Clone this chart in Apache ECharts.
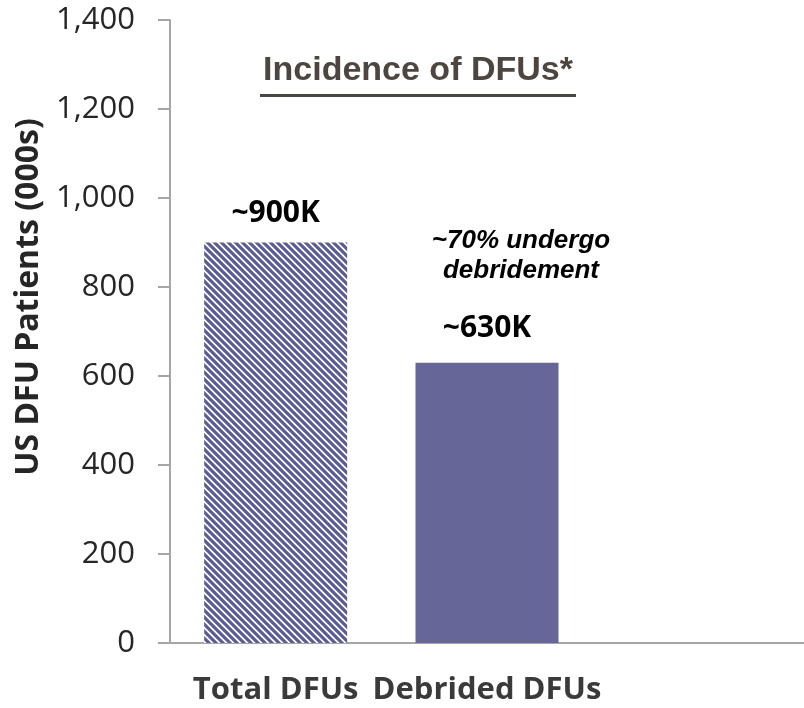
<!DOCTYPE html>
<html lang="en">
<head>
    <meta charset="UTF-8">
    <title>Incidence of DFUs</title>
    <script src="https://cdn.jsdelivr.net/npm/echarts@6/dist/echarts.min.js"></script>
    <style>
        html, body { margin: 0; padding: 0; background: #fff; }
    </style>
</head>
<body>
    <div id="main" style="width: 804px;height:708px;"></div>
    <script>
        // data
        var categories = ['Total DFUs', 'Debrided DFUs', ''];
        var patients = [900, 630, null];
        var barLabels = ['~900K', '~630K', ''];
        var yTicks = [0, 200, 400, 600, 800, 1000, 1200, 1400];

        // hatch pattern for the first bar
        function makeHatch() {
            var s = 7;
            var c = document.createElement('canvas');
            c.width = s; c.height = s;
            var ctx = c.getContext('2d');
            ctx.fillStyle = '#ffffff';
            ctx.fillRect(0, 0, s, s);
            ctx.strokeStyle = '#5c5c94';
            ctx.lineWidth = 3.2;
            ctx.beginPath();
            for (var k = -2; k <= 2; k++) {
                ctx.moveTo(k * s - s, -s);
                ctx.lineTo(k * s + 2 * s, 2 * s);
            }
            ctx.stroke();
            return c;
        }
        var hatch = makeHatch();

        var myChart = echarts.init(document.getElementById('main'));
        var option = {
            animation: false,
            grid: {
                left: 170,
                top: 20,
                width: 640,
                height: 623,
                containLabel: false
            },
            xAxis: {
                type: 'category',
                data: categories,
                axisLine: { lineStyle: { color: '#a6a6a6', width: 2 } },
                axisTick: { length: 12, lineStyle: { color: '#a6a6a6', width: 2 } },
                axisLabel: {
                    interval: 0,
                    margin: 32,
                    fontSize: 31,
                    fontWeight: 'bold',
                    fontFamily: 'Open Sans',
                    color: '#3a3a3a'
                }
            },
            yAxis: {
                type: 'value',
                min: yTicks[0],
                max: yTicks[yTicks.length - 1],
                interval: 200,
                splitLine: { show: false },
                axisLine: { show: true, lineStyle: { color: '#a6a6a6', width: 2 } },
                axisTick: { show: true, length: 12, lineStyle: { color: '#a6a6a6', width: 2 } },
                axisLabel: {
                    margin: 35,
                    fontSize: 31,
                    fontFamily: 'Open Sans',
                    color: '#262626',
                    formatter: function (v) { return v.toLocaleString('en-US'); }
                }
            },
            graphic: [
                {
                    type: 'text',
                    x: 29, y: 297,
                    rotation: Math.PI / 2,
                    style: {
                        text: 'US DFU Patients (000s)',
                        fontSize: 32,
                        fontWeight: 'bold',
                        fontFamily: 'Open Sans',
                        fill: '#262626',
                        align: 'center',
                        verticalAlign: 'middle'
                    }
                },
                {
                    type: 'text',
                    x: 418, y: 71,
                    style: {
                        text: 'Incidence of DFUs*',
                        fontSize: 34,
                        fontWeight: 'bold',
                        fontFamily: 'Liberation Sans',
                        fill: '#4d4640',
                        align: 'center',
                        verticalAlign: 'middle'
                    }
                },
                {
                    type: 'rect',
                    shape: { x: 260, y: 94, width: 316, height: 3 },
                    style: { fill: '#4d4640' }
                },
                {
                    type: 'text',
                    x: 521, y: 256,
                    style: {
                        text: '~70% undergo\ndebridement',
                        fontSize: 26,
                        fontWeight: 'bold',
                        fontStyle: 'italic',
                        fontFamily: 'Liberation Sans',
                        lineHeight: 30,
                        fill: '#000',
                        align: 'center',
                        verticalAlign: 'middle'
                    }
                }
            ],
            series: [
                {
                    type: 'bar',
                    barWidth: 143,
                    data: patients.map(function (v, i) {
                        return {
                            value: v,
                            itemStyle: {
                                color: i === 0 ? { image: hatch, repeat: 'repeat' } : '#666699'
                            },
                            label: {
                                show: v != null,
                                position: 'top',
                                distance: i === 0 ? 14 : 19,
                                formatter: barLabels[i],
                                fontSize: 30,
                                fontWeight: 'bold',
                                fontFamily: 'Open Sans',
                                color: '#000'
                            }
                        };
                    })
                }
            ]
        };
        myChart.setOption(option);
    </script>
</body>
</html>
